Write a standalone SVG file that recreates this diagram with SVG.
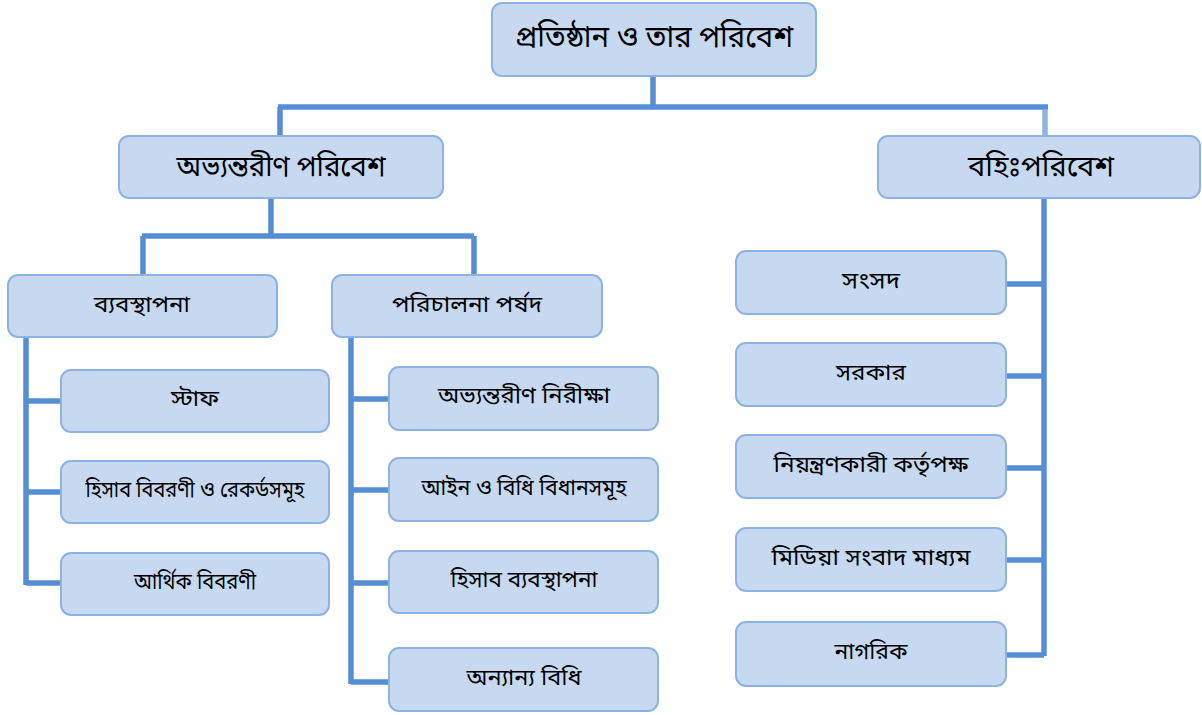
<svg xmlns="http://www.w3.org/2000/svg" width="1202" height="715" viewBox="0 0 1202 715">
<style>
.box{fill:#C6D9F0;stroke:#8DB3E2;stroke-width:2}
.t{font-family:"Noto Sans Bengali","Vrinda","Noto Sans","DejaVu Sans",sans-serif;fill:#000;text-anchor:middle;dominant-baseline:central}
.t1{font-size:30px}
.t2{font-size:28px}
.t3{font-size:23px}
.t4{font-size:23px}
.c{fill:none;stroke:#558ED5;stroke-width:5.5}
</style>
<rect width="1202" height="715" fill="#fff"/>
<g id="connectors">
<path class="c" d="M653,76 V107 M278,107 H1048 M280,107 V136"/>
<path class="c" d="M1045,110 V136" style="stroke:#8DB3E2"/>
<path class="c" d="M271,198 V236 M142,236 H474 M143,236 V275 M474,236 V275"/>
<path class="c" d="M26,337 V585 M26,401 H61 M26,492 H61 M26,583 H61"/>
<path class="c" d="M351,337 V684 M351,399 H389 M351,490 H389 M351,583 H389 M351,682 H389"/>
<path class="c" d="M1044,198 V656 M1006,284 H1044 M1006,376 H1044 M1006,468 H1044 M1006,560 H1044 M1006,655 H1044"/>
</g>
<g id="n-root"><rect class="box" x="492" y="3" width="324" height="73" rx="10"/><text class="t t1" x="654" y="39" textLength="278" lengthAdjust="spacingAndGlyphs">প্রতিষ্ঠান ও তার পরিবেশ</text></g>
<g id="n-internal"><rect class="box" x="119" y="136" width="324" height="62" rx="10"/><text class="t t2" x="281" y="168" textLength="209" lengthAdjust="spacingAndGlyphs">অভ্যন্তরীণ পরিবেশ</text></g>
<g id="n-external"><rect class="box" x="878" y="136" width="322" height="62" rx="10"/><text class="t t2" x="1041" y="168" textLength="146" lengthAdjust="spacingAndGlyphs">বহিঃপরিবেশ</text></g>
<g id="n-management"><rect class="box" x="8" y="275" width="269" height="62" rx="10"/><text class="t t3" x="142" y="306" textLength="96" lengthAdjust="spacingAndGlyphs">ব্যবস্থাপনা</text></g>
<g id="n-board"><rect class="box" x="332" y="275" width="270" height="62" rx="10"/><text class="t t3" x="467" y="306" textLength="150" lengthAdjust="spacingAndGlyphs">পরিচালনা পর্ষদ</text></g>
<g id="n-staff"><rect class="box" x="61" y="370" width="268" height="62" rx="10"/><text class="t t4" x="195" y="400" textLength="48" lengthAdjust="spacingAndGlyphs">স্টাফ</text></g>
<g id="n-records"><rect class="box" x="61" y="461" width="268" height="62" rx="10"/><text class="t t4" x="195" y="491" textLength="219" lengthAdjust="spacingAndGlyphs">হিসাব বিবরণী ও রেকর্ডসমূহ</text></g>
<g id="n-financial"><rect class="box" x="61" y="553" width="268" height="62" rx="10"/><text class="t t4" x="195" y="583" textLength="122" lengthAdjust="spacingAndGlyphs">আর্থিক বিবরণী</text></g>
<g id="n-audit"><rect class="box" x="389" y="367" width="269" height="63" rx="10"/><text class="t t4" x="524" y="397" textLength="172" lengthAdjust="spacingAndGlyphs">অভ্যন্তরীণ নিরীক্ষা</text></g>
<g id="n-law"><rect class="box" x="389" y="458" width="269" height="63" rx="10"/><text class="t t4" x="524" y="489" textLength="205" lengthAdjust="spacingAndGlyphs">আইন ও বিধি বিধানসমূহ</text></g>
<g id="n-accmgmt"><rect class="box" x="389" y="551" width="269" height="62" rx="10"/><text class="t t4" x="524" y="581" textLength="147" lengthAdjust="spacingAndGlyphs">হিসাব ব্যবস্থাপনা</text></g>
<g id="n-other"><rect class="box" x="389" y="648" width="269" height="63" rx="10"/><text class="t t4" x="524" y="679" textLength="115" lengthAdjust="spacingAndGlyphs">অন্যান্য বিধি</text></g>
<g id="n-parliament"><rect class="box" x="736" y="251" width="270" height="63" rx="10"/><text class="t t4" x="871" y="282" textLength="58" lengthAdjust="spacingAndGlyphs">সংসদ</text></g>
<g id="n-govt"><rect class="box" x="736" y="343" width="270" height="63" rx="10"/><text class="t t4" x="871" y="374" textLength="70" lengthAdjust="spacingAndGlyphs">সরকার</text></g>
<g id="n-regulator"><rect class="box" x="736" y="435" width="270" height="63" rx="10"/><text class="t t4" x="871" y="466" textLength="195" lengthAdjust="spacingAndGlyphs">নিয়ন্ত্রণকারী কর্তৃপক্ষ</text></g>
<g id="n-media"><rect class="box" x="736" y="528" width="270" height="63" rx="10"/><text class="t t4" x="871" y="559" textLength="199" lengthAdjust="spacingAndGlyphs">মিডিয়া সংবাদ মাধ্যম</text></g>
<g id="n-citizen"><rect class="box" x="736" y="622" width="270" height="64" rx="10"/><text class="t t4" x="871" y="653" textLength="73" lengthAdjust="spacingAndGlyphs">নাগরিক</text></g>
</svg>
